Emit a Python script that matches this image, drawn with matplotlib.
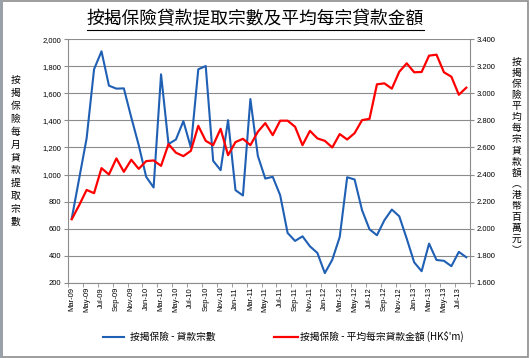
import matplotlib
matplotlib.use("Agg")
import matplotlib.pyplot as plt
import numpy as np
from matplotlib.lines import Line2D
from matplotlib.patches import Rectangle

months = [
    "Mar-09", "Apr-09", "May-09", "Jun-09", "Jul-09", "Aug-09", "Sep-09", "Oct-09", "Nov-09", "Dec-09",
    "Jan-10", "Feb-10", "Mar-10", "Apr-10", "May-10", "Jun-10", "Jul-10", "Aug-10", "Sep-10", "Oct-10",
    "Nov-10", "Dec-10", "Jan-11", "Feb-11", "Mar-11", "Apr-11", "May-11", "Jun-11", "Jul-11", "Aug-11",
    "Sep-11", "Oct-11", "Nov-11", "Dec-11", "Jan-12", "Feb-12", "Mar-12", "Apr-12", "May-12", "Jun-12",
    "Jul-12", "Aug-12", "Sep-12", "Oct-12", "Nov-12", "Dec-12", "Jan-13", "Feb-13", "Mar-13", "Apr-13",
    "May-13", "Jun-13", "Jul-13", "Aug-13",
]

loan_count = [
    674, 970, 1267, 1778, 1911, 1657, 1635, 1637, 1422, 1217,
    983, 904, 1741, 1225, 1259, 1395, 1200, 1778, 1802, 1101,
    1032, 1402, 884, 845, 1558, 1138, 970, 983, 847, 568,
    509, 543, 469, 420, 271, 370, 538, 980, 963, 736,
    595, 551, 662, 741, 691, 526, 351, 285, 489, 368,
    362, 322, 428, 388,
]

avg_amount = [
    2.069, 2.173, 2.286, 2.262, 2.447, 2.400, 2.519, 2.420, 2.509, 2.442,
    2.499, 2.504, 2.464, 2.625, 2.561, 2.536, 2.575, 2.760, 2.649, 2.617,
    2.738, 2.543, 2.640, 2.664, 2.617, 2.716, 2.780, 2.691, 2.798, 2.798,
    2.753, 2.617, 2.723, 2.667, 2.649, 2.600, 2.699, 2.659, 2.706, 2.802,
    2.812, 3.067, 3.074, 3.035, 3.160, 3.222, 3.156, 3.158, 3.279, 3.286,
    3.156, 3.123, 2.990, 3.042,
]

title = "按揭保險貸款提取宗數及平均每宗貸款金額"
left_label = "按揭保險每月貸款提取宗數"
right_label = "按揭保險平均每宗貸款額︵港幣百萬元︶"
blue_name = "按揭保險 - 貸款宗數"
red_name = "按揭保險 - 平均每宗貸款金額 (HK$'m)"

CJK = ["Noto Sans CJK TC", "DejaVu Sans"]
BLUE = "#1f5fb4"
RED = "#ff0000"
GRID = "#8c8c8c"
W, H = 530, 358

plt.rcParams["font.family"] = ["Liberation Sans", "DejaVu Sans"]

fig = plt.figure(figsize=(5.3, 3.58), dpi=100)
ax = fig.add_axes([0.1283, 0.2103, 0.7585, 0.680])
ax2 = ax.twinx()

x = np.arange(len(months))
ax.plot(x, loan_count, color=BLUE, lw=1.5, zorder=3)
ax2.plot(x, avg_amount, color=RED, lw=1.6, zorder=3)

ax.set_xlim(-0.5, len(months) - 0.5)
ax.set_ylim(200, 2000)
ax2.set_ylim(1.6, 3.4)
ax.set_yticks(np.arange(200, 2001, 200))
ax.set_yticklabels([f"{v:,}" for v in range(200, 2001, 200)])
ax2.set_yticks(np.arange(1.6, 3.41, 0.2))
ax2.set_yticklabels([f"{v:.3f}" for v in np.arange(1.6, 3.41, 0.2)])

ax.set_xticks(x[::2])
ax.set_xticklabels(months[::2], rotation=90, fontsize=5.5)
ax.set_xticks(np.arange(-0.5, len(months), 2), minor=True)
ax.tick_params(axis="x", which="major", length=0, pad=3)
ax.tick_params(axis="x", which="minor", length=3, color=GRID, direction="out")
ax.tick_params(axis="y", labelsize=5.5, length=3, color=GRID, pad=2)
ax2.tick_params(axis="y", labelsize=5.5, length=3, color=GRID, pad=2)

ax.grid(axis="y", color=GRID, lw=0.8)
for a in (ax, ax2):
    for side in ("top", "right", "left", "bottom"):
        a.spines[side].set_visible(False)
ax.spines["left"].set_visible(True)
ax.spines["bottom"].set_visible(True)
ax2.spines["right"].set_visible(True)
for s in (ax.spines["left"], ax.spines["bottom"], ax2.spines["right"]):
    s.set_color(GRID)
    s.set_linewidth(0.8)

# title with underline
t = fig.text(0.482, 1 - 19 / H, title, fontsize=12.8, family=CJK, ha="center", va="center")
fig.canvas.draw()
bb = t.get_window_extent().transformed(fig.transFigure.inverted())
uy = 1 - 29.5 / H
fig.add_artist(Line2D([bb.x0, bb.x1], [uy, uy], color="black", lw=0.8, transform=fig.transFigure))

# vertical axis labels, one character per row
for i, ch in enumerate(left_label):
    fig.text(15.5 / W, 1 - (80 + 12.9 * i) / H, ch, fontsize=7, family=CJK, ha="center", va="center")
for i, ch in enumerate(right_label):
    fig.text(516.5 / W, 1 - (61.7 + 11.1 * i) / H, ch, fontsize=7, family=CJK, ha="center", va="center")

# legend
ly = 1 - 336.7 / H
fig.add_artist(Line2D([102.7 / W, 124 / W], [ly, ly], color=BLUE, lw=1.5, transform=fig.transFigure))
fig.text(130 / W, ly, blue_name, fontsize=7, family=CJK, va="center")
fig.add_artist(Line2D([274 / W, 298 / W], [ly, ly], color=RED, lw=1.6, transform=fig.transFigure))
fig.text(300 / W, ly, red_name, fontsize=7, family=CJK, va="center")

# chart border
fig.add_artist(Rectangle((0.002, 0.003), 0.994, 0.995, transform=fig.transFigure, fill=False,
                         edgecolor="#8c8c8c", lw=1.2))
fig.add_artist(Rectangle((0, 0), 0.005, 1, transform=fig.transFigure, color="#9aa0a8", lw=0))

fig.savefig("out.png", dpi=100, facecolor="white")
